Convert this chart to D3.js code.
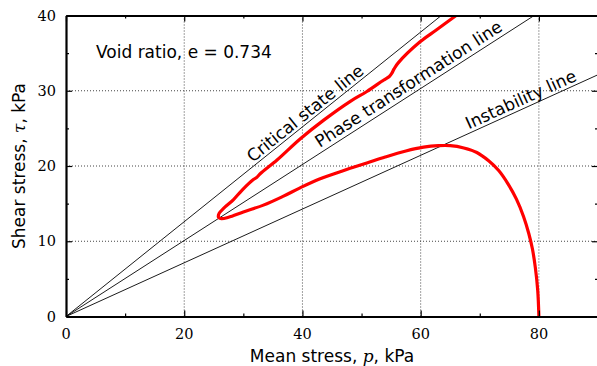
<!DOCTYPE html>
<html>
<head>
<meta charset="utf-8">
<script src="https://cdn.jsdelivr.net/npm/d3@7"></script>
<style>
  body { margin: 0; background: #fff; }
  text { font-family: "DejaVu Sans", sans-serif; }
  .tick-label { font-family: "DejaVu Serif", serif; font-size: 14.5px; }
</style>
</head>
<body>
<svg></svg>
<script>
// stress path
var meanStress = [80, 79.8, 79.4, 78.9, 78.3, 77.4, 76.2, 74.8, 73.2, 71.5, 69.5, 67.3, 65.0, 63.0,
  60.5, 57.5, 54.0, 50.9, 47.0, 43.0, 39.6, 36.8, 33.4, 30.0, 27.5, 26.3, 25.8, 25.9, 26.7, 28.3,
  29.8, 31.7, 32.3, 32.9, 35.7, 39.6, 43.6, 48.1, 50.9, 53.7, 54.7, 55.1, 55.5, 56.2, 59.9, 62.7, 66.0];
var shearStress = [0, 3.5, 6.5, 9.0, 11.0, 13.3, 15.6, 17.6, 19.4, 20.7, 21.8, 22.4, 22.7, 22.7,
  22.5, 22.0, 21.2, 20.4, 19.4, 18.3, 17.1, 16.0, 14.8, 13.9, 13.2, 13.0, 13.2, 13.7, 14.4, 15.5,
  16.8, 18.2, 18.5, 19.0, 20.8, 23.6, 26.1, 28.6, 29.9, 31.4, 31.9, 32.3, 32.9, 33.7, 36.5, 38.1, 40.0];

var lineNames = ["Critical state line", "Phase transformation line", "Instability line"];
var lineSlopes = [0.63, 0.505, 0.357];

var xTicks = [0, 20, 40, 60, 80];
var yTicks = [0, 10, 20, 30, 40];

var svgWidth = 597;
var svgHeight = 366;
var margin = {left: 66, right: -1, top: 15.5, bottom: 49.5};
var plotW = svgWidth - margin.left - margin.right;
var plotH = svgHeight - margin.top - margin.bottom;

var svg = d3.select("svg")
    .attr("width", svgWidth)
    .attr("height", svgHeight);

var x = d3.scaleLinear().domain([0, 90]).range([margin.left, margin.left + plotW]);
var y = d3.scaleLinear().domain([0, 40]).range([margin.top + plotH, margin.top]);

svg.append("clipPath").attr("id", "clip")
  .append("rect")
    .attr("x", margin.left).attr("y", margin.top)
    .attr("width", plotW).attr("height", plotH);

// grid
var grid = svg.append("g");
grid.selectAll(".gx")
    .data(xTicks.filter(function(d) { return d > 0; }))
    .enter().append("line")
    .attr("x1", function(d) { return x(d); })
    .attr("x2", function(d) { return x(d); })
    .attr("y1", y(0)).attr("y2", y(40))
    .attr("stroke", "#444").attr("stroke-width", 1)
    .attr("stroke-dasharray", "1,2");
grid.selectAll(".gy")
    .data(yTicks.filter(function(d) { return d > 0 && d < 40; }))
    .enter().append("line")
    .attr("x1", x(0)).attr("x2", x(90))
    .attr("y1", function(d) { return y(d); })
    .attr("y2", function(d) { return y(d); })
    .attr("stroke", "#444").attr("stroke-width", 1)
    .attr("stroke-dasharray", "1,2");

// reference lines through origin
var refLines = svg.append("g").attr("clip-path", "url(#clip)");
refLines.selectAll("line")
    .data(lineSlopes)
    .enter().append("line")
    .attr("x1", x(0)).attr("y1", y(0))
    .attr("x2", x(90))
    .attr("y2", function(d) { return y(90 * d); })
    .attr("stroke", "#000").attr("stroke-width", 0.9);

// labels along the lines
var labelAt = [41.4, 58.9, 77.6];
var labelOff = [3, 4.5, 3.5];
var ratio = (y(0) - y(1)) / (x(1) - x(0));
svg.selectAll(".line-label")
    .data(lineNames)
    .enter().append("text")
    .attr("class", "line-label")
    .attr("transform", function(d, i) {
        var ang = Math.atan(lineSlopes[i] * ratio) * 180 / Math.PI;
        var px = x(labelAt[i]), py = y(labelAt[i] * lineSlopes[i]);
        return "translate(" + px + "," + py + ") rotate(" + (-ang) + ")";
    })
    .attr("y", function(d, i) { return -labelOff[i]; })
    .attr("text-anchor", "middle")
    .attr("font-size", 17)
    .text(function(d) { return d; });

// stress path
var pathData = d3.zip(meanStress, shearStress);
svg.append("path")
    .datum(pathData)
    .attr("clip-path", "url(#clip)")
    .attr("fill", "none")
    .attr("stroke", "#ff0000")
    .attr("stroke-width", 3.2)
    .attr("stroke-linejoin", "round")
    .attr("d", d3.line()
        .x(function(d) { return x(d[0]); })
        .y(function(d) { return y(d[1]); })
        .curve(d3.curveCatmullRom.alpha(0.5)));

// axes, ticks inward
var xAxisB = d3.axisBottom(x).tickValues(d3.range(0, 91, 10)).tickSizeInner(-3).tickSizeOuter(0).tickFormat("");
var xAxisT = d3.axisTop(x).tickValues(d3.range(0, 91, 10)).tickSizeInner(-3).tickSizeOuter(0).tickFormat("");
var yAxisL = d3.axisLeft(y).tickValues(d3.range(0, 41, 5)).tickSizeInner(-3).tickSizeOuter(0).tickFormat("");
var yAxisR = d3.axisRight(y).tickValues(d3.range(0, 41, 5)).tickSizeInner(-3).tickSizeOuter(0).tickFormat("");

function styleAxis(g) {
    g.select(".domain").attr("stroke", "#000").attr("stroke-width", 2.2);
    g.selectAll(".tick line").attr("stroke", "#000").attr("stroke-width", 1.2);
}

var gB = svg.append("g").attr("transform", "translate(0," + y(0) + ")").call(xAxisB).call(styleAxis);
var gT = svg.append("g").attr("transform", "translate(0," + y(40) + ")").call(xAxisT).call(styleAxis);
var gL = svg.append("g").attr("transform", "translate(" + x(0) + ",0)").call(yAxisL).call(styleAxis);
var gR = svg.append("g").attr("transform", "translate(" + x(90) + ",0)").call(yAxisR).call(styleAxis);

// longer ticks at the labelled values
[gB, gT].forEach(function(g) {
    g.selectAll(".tick line").filter(function(d) { return d % 20 === 0; })
      .attr("y2", function() { return +d3.select(this).attr("y2") * 2; });
});
[gL, gR].forEach(function(g) {
    g.selectAll(".tick line").filter(function(d) { return d % 10 === 0; })
      .attr("x2", function() { return +d3.select(this).attr("x2") * 2; });
});

// tick labels
svg.selectAll(".xl")
    .data(xTicks)
    .enter().append("text")
    .attr("class", "tick-label")
    .attr("x", function(d) { return x(d); })
    .attr("y", y(0) + 22)
    .attr("text-anchor", "middle")
    .text(function(d) { return d; });
svg.selectAll(".yl")
    .data(yTicks)
    .enter().append("text")
    .attr("class", "tick-label")
    .attr("x", x(0) - 10)
    .attr("y", function(d) { return y(d); })
    .attr("dy", "0.36em")
    .attr("text-anchor", "end")
    .text(function(d) { return d; });

// axis titles
var xt = svg.append("text")
    .attr("x", (x(0) + x(90)) / 2)
    .attr("y", 362)
    .attr("text-anchor", "middle")
    .attr("font-size", 17);
xt.append("tspan").text("Mean stress, ");
xt.append("tspan").attr("font-family", "DejaVu Serif, serif").attr("font-style", "italic").text("p");
xt.append("tspan").text(", kPa");

var yt = svg.append("text")
    .attr("transform", "translate(25," + ((y(0) + y(40)) / 2) + ") rotate(-90)")
    .attr("text-anchor", "middle")
    .attr("font-size", 17);
yt.append("tspan").text("Shear stress, ");
yt.append("tspan").attr("font-family", "DejaVu Serif, serif").attr("font-style", "italic").text("τ");
yt.append("tspan").text(", kPa");

svg.append("text")
    .attr("x", 96)
    .attr("y", 58)
    .attr("font-size", 17)
    .text("Void ratio, e = 0.734");
</script>
</body>
</html>
